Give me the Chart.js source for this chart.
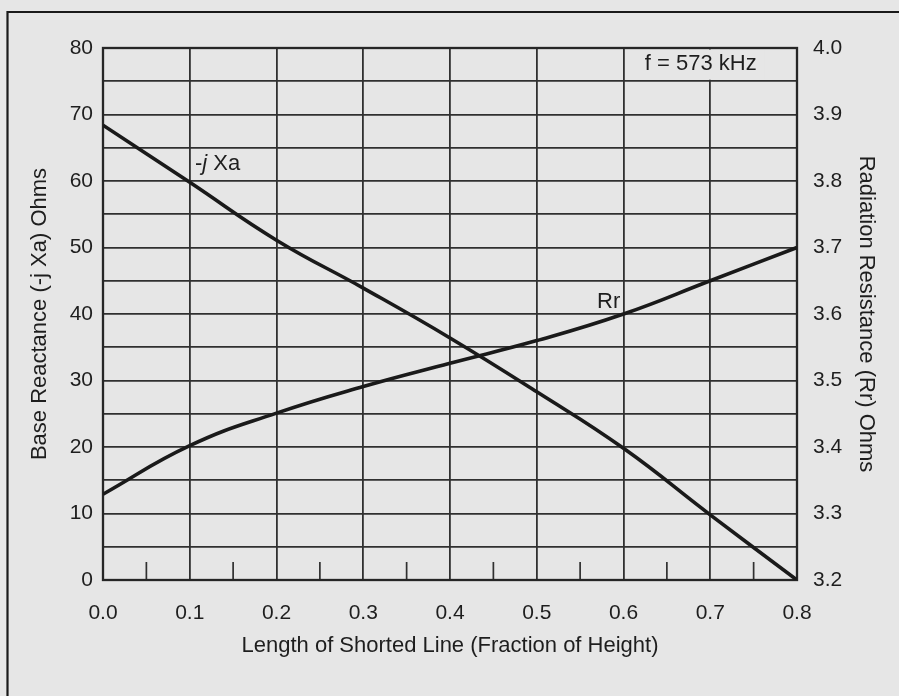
<!DOCTYPE html>
<html>
<head>
<meta charset="utf-8">
<script src="https://cdn.jsdelivr.net/npm/chart.js@4"></script>
<style>
  html, body { margin: 0; padding: 0; background: #e6e6e6; }
  canvas { display: block; }
</style>
</head>
<body>
<canvas id="myChart" width="899" height="696"></canvas>
<script>
// length of shorted line, fraction of tower height
const lengths = [0.0, 0.1, 0.2, 0.3, 0.4, 0.5, 0.6, 0.7, 0.8];
// base reactance (-j Xa), ohms
const reactance = [68.4, 59.8, 51.1, 43.9, 36.4, 28.3, 19.8, 9.8, 0];
// radiation resistance (Rr), ohms
const resistance = [3.329, 3.402, 3.451, 3.491, 3.526, 3.56, 3.60, 3.65, 3.70];

const xTicks = [0.0, 0.1, 0.2, 0.3, 0.4, 0.5, 0.6, 0.7, 0.8];
const xMinorTicks = [0.05, 0.15, 0.25, 0.35, 0.45, 0.55, 0.65, 0.75];
const leftGrid = [0, 5, 10, 15, 20, 25, 30, 35, 40, 45, 50, 55, 60, 65, 70, 75, 80];
const leftLabels = [0, 10, 20, 30, 40, 50, 60, 70, 80];
const rightLabels = [3.2, 3.3, 3.4, 3.5, 3.6, 3.7, 3.8, 3.9, 4.0];

const bg = '#e6e6e6';
const ink = '#1e1e1e';
const gridColor = '#303030';
const fontFamily = '"Liberation Sans", Arial, Helvetica, sans-serif';

const decor = {
  id: 'decor',
  beforeDraw(chart) {
    const ctx = chart.ctx;
    ctx.save();
    ctx.fillStyle = bg;
    ctx.fillRect(0, 0, chart.width, chart.height);
    // outer frame of the figure
    ctx.strokeStyle = '#1a1a1a';
    ctx.lineWidth = 2.2;
    ctx.beginPath();
    ctx.moveTo(7.5, chart.height);
    ctx.lineTo(7.5, 12);
    ctx.lineTo(chart.width, 12);
    ctx.stroke();
    ctx.restore();
  },
  beforeDatasetsDraw(chart) {
    const ctx = chart.ctx;
    const a = chart.chartArea;
    const xs = chart.scales.x, ys = chart.scales.y;
    ctx.save();
    // minor ticks along the bottom
    ctx.strokeStyle = gridColor;
    ctx.lineWidth = 1.7;
    xMinorTicks.forEach(v => {
      const px = xs.getPixelForValue(v);
      ctx.beginPath();
      ctx.moveTo(px, a.bottom);
      ctx.lineTo(px, a.bottom - 18);
      ctx.stroke();
    });
    // frequency note, sits on a blank patch over the grid
    ctx.font = '22px ' + fontFamily;
    const note = 'f = 573 kHz';
    const w = ctx.measureText(note).width;
    const cx = xs.getPixelForValue(0.689);
    const cy = ys.getPixelForValue(77.6);
    ctx.fillStyle = bg;
    ctx.fillRect(cx - w / 2 - 8, a.top + 1.5, w + 16, ys.getPixelForValue(75) - a.top - 3);
    ctx.fillStyle = ink;
    ctx.textAlign = 'center';
    ctx.textBaseline = 'middle';
    ctx.fillText(note, cx, cy);
    // plot frame
    ctx.strokeStyle = '#262626';
    ctx.lineWidth = 2.3;
    ctx.strokeRect(a.left, a.top, a.right - a.left, a.bottom - a.top);
    ctx.restore();
  },
  afterDatasetsDraw(chart) {
    const ctx = chart.ctx;
    const xs = chart.scales.x, ys = chart.scales.y, y2 = chart.scales.y2;
    ctx.save();
    ctx.fillStyle = ink;
    ctx.textBaseline = 'alphabetic';
    ctx.textAlign = 'left';
    // "-j Xa" with an italic j
    let px = xs.getPixelForValue(0.106);
    const py = ys.getPixelForValue(61.7);
    ctx.font = '22px ' + fontFamily;
    ctx.fillText('-', px, py);
    px += ctx.measureText('-').width;
    ctx.font = 'italic 22px ' + fontFamily;
    ctx.fillText('j', px, py);
    px += ctx.measureText('j').width;
    ctx.font = '22px ' + fontFamily;
    ctx.fillText(' Xa', px, py);
    // "Rr"
    ctx.fillText('Rr', xs.getPixelForValue(0.5695), y2.getPixelForValue(3.609));
    ctx.restore();
  }
};

const lineColor = '#1a1a1a';

const data = {
  datasets: [{
    label: '-j Xa',
    data: lengths.map((x, i) => ({ x: x, y: reactance[i] })),
    yAxisID: 'y',
    borderColor: lineColor,
    borderWidth: 3.6,
    pointRadius: 0,
    tension: 0.45
  }, {
    label: 'Rr',
    data: lengths.map((x, i) => ({ x: x, y: resistance[i] })),
    yAxisID: 'y2',
    borderColor: lineColor,
    borderWidth: 3.6,
    pointRadius: 0,
    tension: 0.45
  }]
};

const config = {
  type: 'line',
  data: data,
  plugins: [decor],
  options: {
    responsive: false,
    animation: false,
    devicePixelRatio: 1,
    layout: { padding: { top: 48, left: 0, right: 0, bottom: 0 } },
    plugins: { legend: { display: false }, tooltip: { enabled: false } },
    scales: {
      x: {
        type: 'linear',
        min: 0, max: 0.8,
        afterBuildTicks: s => { s.ticks = xTicks.map(v => ({ value: v })); },
        afterFit: s => { s.height = 116; },
        grid: { color: gridColor, lineWidth: 1.8, drawTicks: false },
        border: { display: false },
        ticks: {
          padding: 21, color: ink, maxRotation: 0, autoSkip: false,
          font: { family: fontFamily, size: 21 },
          callback: v => v.toFixed(1)
        },
        title: {
          display: true, text: 'Length of Shorted Line (Fraction of Height)',
          color: ink, font: { family: fontFamily, size: 22 },
          padding: { top: 0, bottom: 37 }
        }
      },
      y: {
        position: 'left',
        min: 0, max: 80,
        afterBuildTicks: s => { s.ticks = leftGrid.map(v => ({ value: v })); },
        afterFit: s => { s.width = 103; },
        grid: { color: gridColor, lineWidth: 1.8, drawTicks: false },
        border: { display: false },
        ticks: {
          padding: 10, color: ink, autoSkip: false,
          font: { family: fontFamily, size: 21 },
          callback: v => leftLabels.includes(v) ? String(v) : ''
        },
        title: {
          display: true, text: 'Base Reactance (-j Xa) Ohms',
          color: ink, font: { family: fontFamily, size: 22 },
          padding: { top: 27, bottom: 0 }
        }
      },
      y2: {
        position: 'right',
        min: 3.2, max: 4.0,
        afterBuildTicks: s => { s.ticks = rightLabels.map(v => ({ value: v })); },
        afterFit: s => { s.width = 102; },
        grid: { display: false, drawTicks: false },
        border: { display: false },
        ticks: {
          padding: 16, color: ink, autoSkip: false,
          font: { family: fontFamily, size: 21 },
          callback: v => v.toFixed(1)
        },
        title: {
          display: true, text: 'Radiation Resistance (Rr) Ohms',
          color: ink, font: { family: fontFamily, size: 22 },
          padding: { top: 20, bottom: 0 }
        }
      }
    }
  }
};

const myChart = new Chart(document.getElementById('myChart'), config);
</script>
</body>
</html>
